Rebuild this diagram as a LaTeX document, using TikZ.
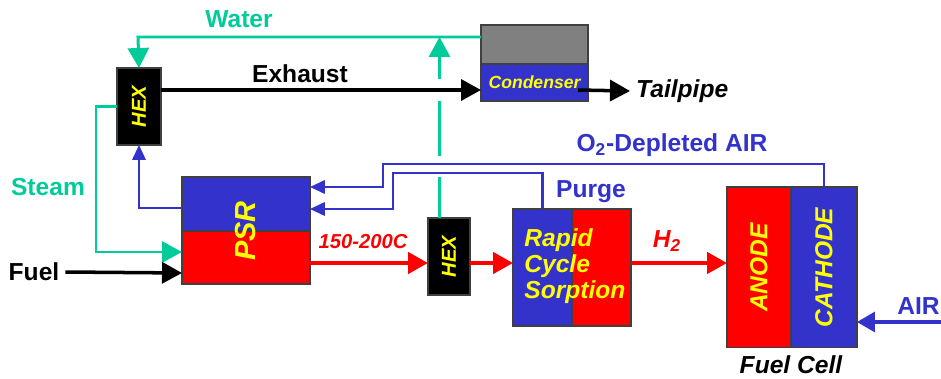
\documentclass[tikz,border=0pt]{standalone}
\usepackage{fontspec}
\setmainfont{Liberation Sans}
\usetikzlibrary{arrows.meta,positioning}

\definecolor{fcblue}{RGB}{51,51,204}
\definecolor{fcgreen}{RGB}{0,204,153}
\definecolor{fcred}{RGB}{255,0,0}
\definecolor{fcyellow}{RGB}{255,255,0}
\definecolor{fcgray}{RGB}{128,128,128}

\begin{document}
\begin{tikzpicture}[x=0.02cm, y=-0.02cm, >={Triangle[length=0.4cm,width=0.42cm]},
    box/.style={draw=black!75, line width=0.6pt, anchor=north west, inner sep=0pt, outer sep=0pt},
    intext/.style={text=fcyellow, font=\fontsize{14}{16}\selectfont\bfseries\itshape},
    lbl/.style={font=\fontsize{14}{16}\selectfont\bfseries},
    water/.style={fcgreen, line width=1.7pt},
    gas/.style={black, line width=2pt},
    hydro/.style={fcred, line width=2.6pt},
    air/.style={fcblue, line width=1.2pt, >={Triangle[length=0.3cm,width=0.27cm]}}]

  \useasboundingbox (0,0) rectangle (941,379);

  % Apparate
  \node[box, fill=black, minimum width=0.88cm, minimum height=1.54cm,
        intext, font=\fontsize{11.5}{13}\selectfont\bfseries\itshape] (hexa) at (117,68) {\rotatebox{90}{HEX}};
  \node[box, fill=fcgray, minimum width=2.14cm, minimum height=0.78cm] (condt) at (481,25) {};
  \node[box, fill=fcblue, minimum width=2.14cm, minimum height=0.74cm,
        intext, font=\fontsize{10}{12}\selectfont\bfseries\itshape] (condb) at (481,64) {Condenser};
  \node[box, fill=fcblue, minimum width=2.56cm, minimum height=1.08cm] (psrt) at (182,177) {};
  \node[box, fill=fcred, minimum width=2.56cm, minimum height=1.06cm] (psrb) at (182,231) {};
  \node[intext, font=\fontsize{16.5}{18}\selectfont\bfseries\itshape] (psrtxt) at (psrt.south) {\rotatebox{90}{PSR}};
  \node[box, fill=black, minimum width=0.84cm, minimum height=1.54cm,
        intext, font=\fontsize{11.5}{13}\selectfont\bfseries\itshape] (hexb) at (428,218) {\rotatebox{90}{HEX}};
  \node[box, fill=fcblue, minimum width=1.18cm, minimum height=2.34cm] (rcsa) at (513,209) {};
  \node[box, fill=fcred, minimum width=1.18cm, minimum height=2.34cm] (rcsb) at (572,209) {};
  \node[intext, anchor=west, align=left, inner sep=0pt] (rcstxt) at (524,266)
        {Rapid\\[-1pt]Cycle\\[-1pt]Sorption};
  \node[box, fill=fcred, minimum width=1.28cm, minimum height=3.22cm, intext] (anode) at (727,187) {\rotatebox{90}{ANODE}};
  \node[box, fill=fcblue, minimum width=1.32cm, minimum height=3.22cm, intext] (cath) at (791,187) {\rotatebox{90}{CATHODE}};

  % Beschriftungen
  \node[lbl, text=fcgreen] (water) at (239,19) {Water};
  \node[lbl] (exhaust) at (300,74) {Exhaust};
  \node[lbl, text=fcgreen] (steam) at (48,187) {Steam};
  \node[lbl] (fuel) at (34,272) {Fuel};
  \node[lbl, font=\fontsize{14}{16}\selectfont\bfseries\itshape, anchor=west] (tail) at (630,91) {Tailpipe};
  \node[lbl, text=fcred, font=\fontsize{11.5}{13}\selectfont\bfseries\itshape] (temp) at (363,242) {150-200C};
  \node[lbl, text=fcred, font=\fontsize{14}{16}\selectfont\bfseries\itshape] (htwo) at (667,241) {H\textsubscript{2}};
  \node[lbl, text=fcblue] (purge) at (591,192) {Purge};
  \node[lbl, text=fcblue] (otwo) at (672,145) {O\textsubscript{2}-Depleted AIR};
  \node[lbl, text=fcblue, anchor=east, inner sep=0pt] (airlbl) at (940,306) {AIR};
  \node[lbl, font=\fontsize{14}{16}\selectfont\bfseries\itshape] (fclbl) at (791,365) {Fuel Cell};

  % Hilfspunkte
  \coordinate (wc) at (138,37);
  \coordinate (hy) at (0,263);
  \coordinate (o2c) at (383,164);
  \coordinate (pgc) at (393,173);
  \coordinate (airin) at (950,322);

  % Wasser und Dampf
  \draw[water, ->] ([yshift=-0.24cm]condt.north west) -- (wc) -- (hexa.north);
  \draw[water, ->] ([xshift=-0.19cm]hexb.north) -- ([xshift=-0.19cm]hexb.north |- wc);
  \fill[white] (433,79) rectangle (447,101);
  \fill[white] (433,156) rectangle (447,177);
  \draw[water, ->] (hexa.west) -- ++(-21,0) |- ([yshift=0.11cm]psrb.west);

  % Abgas und Brennstoff
  \draw[gas, ->] ([yshift=0.33cm]hexa.east) -- ([yshift=-0.15cm]condb.west);
  \draw[gas, ->] ([shift={(-0.2cm,-0.15cm)}]condb.east) -- (tail.west);
  \draw[gas, ->] (fuel.east) -- ([yshift=-0.31cm]psrb.west);

  % Wasserstoffpfad
  \draw[hydro, ->] (psrb.east |- hy) -- (hexb.west |- hy);
  \draw[hydro, ->] (hexb.east |- hy) -- (rcsa.west |- hy);
  \draw[hydro, ->] (rcsb.east |- hy) -- (anode.west |- hy);

  % Luft
  \draw[air, ->] ([yshift=-0.08cm]psrt.west) -| (hexa.south);
  \draw[air, ->] (cath.north) |- (o2c) |- ([yshift=0.34cm]psrt.east);
  \draw[air, ->] (rcsa.north) |- (pgc) |- ([yshift=-0.1cm]psrt.east);
  \draw[air, line width=1.8pt, >={Triangle[length=0.36cm,width=0.4cm]}, ->] (airin) -- (cath.east |- airin);

\end{tikzpicture}
\end{document}
